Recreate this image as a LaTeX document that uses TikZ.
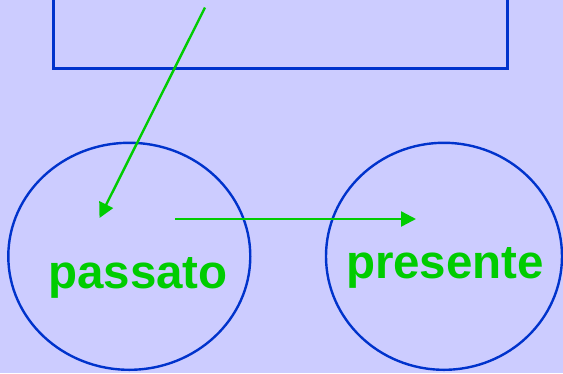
\documentclass[tikz,border=0pt]{standalone}
\usepackage{fontspec}
\setmainfont{Liberation Sans}
\usetikzlibrary{arrows.meta,shapes.geometric}
\definecolor{lilla}{HTML}{CCCCFF}
\definecolor{blu}{HTML}{0033CC}
\definecolor{verde}{HTML}{00CC00}

\begin{document}
\begin{tikzpicture}[x=1pt, y=1pt, >={Triangle[length=15pt, width=15pt]},
  tempo/.style={draw=blu, ellipse, line width=2.4pt, inner sep=0pt},
  scatola/.style={draw=blu, line width=3pt, inner sep=0pt},
  parola/.style={text=verde, anchor=base, inner sep=0pt, font=\fontsize{47.5}{56}\selectfont\bfseries},
  freccia/.style={->, draw=verde, line width=2.4pt}]
  \fill[lilla] (0,0) rectangle (563,-373);
  \useasboundingbox (0,0) rectangle (563,-373);
  \clip (0,0) rectangle (563,-373);
  \node[scatola, minimum width=454pt, minimum height=100pt] (box) at (280,-18) {};
  \node[tempo, minimum width=242pt, minimum height=227pt] (past) at (129.3,-256.3) {};
  \node[tempo, minimum width=236pt, minimum height=227pt] (present) at (444,-256.3) {};
  \node[parola] (passato) at (138,-288) {passato};
  \node[parola] (presente) at (445,-278.5) {presente};
  \coordinate (a) at (205,-7.5);
  \coordinate (b) at (99.5,-218);
  \coordinate (c) at (175,-219);
  \coordinate (d) at (416,-219);
  \draw[freccia] (a) -- (b);
  \draw[freccia] (c) -- (d);
\end{tikzpicture}
\end{document}
